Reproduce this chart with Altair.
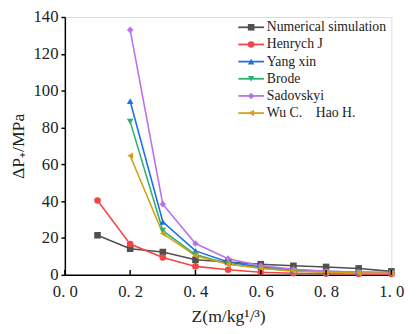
import altair as alt
import pandas as pd

series = ["Numerical simulation", "Henrych J", "Yang xin", "Brode", "Sadovskyi",
          "Wu C.\u00a0\u00a0\u00a0\u00a0Hao H."]
colors = ["#505050", "#F44545", "#1F6FE8", "#2DB36B", "#B873E8", "#D4A017"]
shapes = ["square", "circle", "triangle-up", "triangle-down", "diamond", "triangle-left"]

z_full = [0.1, 0.2, 0.3, 0.4, 0.5, 0.6, 0.7, 0.8, 0.9, 1.0]
z_part = [0.2, 0.3, 0.4, 0.5, 0.6, 0.7, 0.8, 0.9, 1.0]

numerical = [21.5, 14.2, 12.4, 8.2, 7.0, 5.8, 4.9, 4.3, 3.5, 1.9]
henrych = [40.4, 16.7, 9.4, 4.6, 2.8, 1.4, 0.9, 0.6, 0.5, 0.4]
yang = [94.3, 28.8, 13.0, 7.0, 4.2, 2.7, 1.9, 1.4, 1.1]
brode = [83.2, 24.0, 11.0, 6.0, 3.6, 2.3, 1.6, 1.2, 0.9]
sadovskyi = [133.0, 38.4, 17.0, 8.8, 5.0, 3.0, 2.0, 1.5, 1.2]
wu = [64.7, 22.4, 10.4, 5.8, 3.6, 2.0, 1.4, 1.0, 0.8]

x_ticks = [0.0, 0.2, 0.4, 0.6, 0.8, 1.0]
y_ticks = [0, 20, 40, 60, 80, 100, 120, 140]

rows = []
for name, zs, vals in [
    (series[0], z_full, numerical),
    (series[1], z_full, henrych),
    (series[2], z_part, yang),
    (series[3], z_part, brode),
    (series[4], z_part, sadovskyi),
    (series[5], z_part, wu),
]:
    for zv, v in zip(zs, vals):
        rows.append({"Z": zv, "P": v, "series": name})
df = pd.DataFrame(rows)
ticks_df = pd.DataFrame({"Z": x_ticks})

W, H = 333, 263
FONT = "Liberation Serif"

x_scale = alt.Scale(domain=[0, 1.0], nice=False)
y_scale = alt.Scale(domain=[0, 140], nice=False)

x_axis = alt.Axis(values=x_ticks, tickSize=0,
                  labelExpr="replace(format(datum.value, '.1f'), '.', '. ')",
                  title="Z(m/kg¹/³)", labelPadding=9, titlePadding=9,
                  labelOverlap=False, labelFlush=False,
                  labelFont=FONT, titleFont=FONT, labelFontSize=17, titleFontSize=18)
y_axis = alt.Axis(values=y_ticks, tickCount=8, tickSize=4, title="ΔP₊/MPa",
                  labelPadding=3, titlePadding=6,
                  labelOverlap=False, labelFlush=False,
                  labelFont=FONT, titleFont=FONT, labelFontSize=17, titleFontSize=18)

x_enc = alt.X("Z:Q", scale=x_scale, axis=x_axis)
y_enc = alt.Y("P:Q", scale=y_scale, axis=y_axis)

LX, LY = 183, 3.5
common_legend = dict(title=None, orient="none", legendX=LX, legendY=LY, symbolSize=45,
                     labelFontSize=14, labelFont=FONT, labelOffset=9, rowPadding=3.5)

lines = alt.Chart(df).mark_line(strokeWidth=1.6).encode(
    x=x_enc, y=y_enc,
    color=alt.Color("series:N", scale=alt.Scale(domain=series, range=colors),
                    legend=alt.Legend(symbolType="M-3.9,0L3.9,0", symbolStrokeWidth=1.8,
                                      labelOpacity=0, **common_legend)),
    detail="series:N",
)

points = alt.Chart(df).mark_point(filled=True, size=45, opacity=1).encode(
    x=x_enc, y=y_enc,
    fill=alt.Fill("series:N", scale=alt.Scale(domain=series, range=colors),
                  legend=alt.Legend(labelColor="#222", **common_legend)),
    shape=alt.Shape("series:N", scale=alt.Scale(domain=series, range=shapes),
                    legend=alt.Legend(labelColor="#222", **common_legend)),
)

tick_marks = alt.Chart(ticks_df).mark_rule(color="black", strokeWidth=1.5).encode(
    x=x_enc, y=alt.value(H), y2=alt.value(H - 5)
)

chart = alt.layer(lines, points, tick_marks).resolve_scale(color="independent").properties(
    width=W, height=H,
    autosize=alt.AutoSizeParams(type="none"),
    padding={"left": 58, "top": 6, "right": 18, "bottom": 50},
).configure_view(stroke=None).configure(background="white").configure_axis(
    titleFontWeight="normal", labelColor="#222", titleColor="#222",
    domainColor="black", domainWidth=1.5, tickColor="black", tickWidth=1.5, grid=False,
)

chart.save("out.html", embed_options={"renderer": "svg", "actions": False})
